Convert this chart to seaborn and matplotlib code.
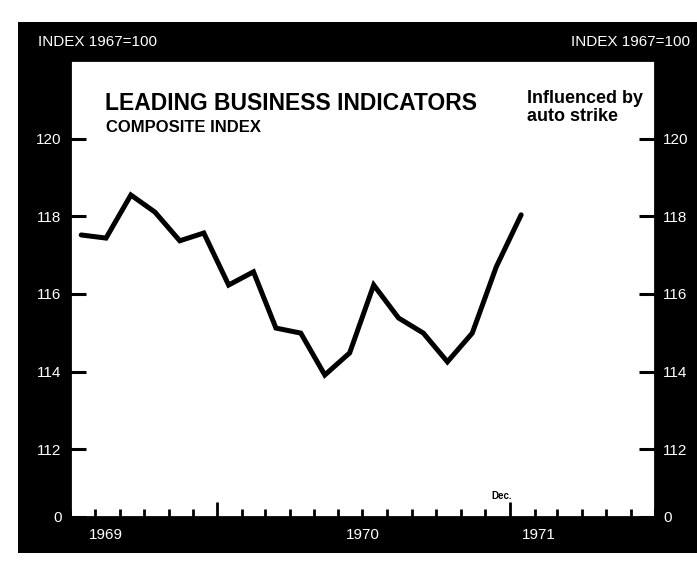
import pandas as pd
import matplotlib.pyplot as plt
import matplotlib.dates as mdates
import seaborn as sns

# monthly composite index (1967=100)
months = ['1969-07', '1969-08', '1969-09', '1969-10', '1969-11', '1969-12',
          '1970-01', '1970-02', '1970-03', '1970-04', '1970-05', '1970-06',
          '1970-07', '1970-08', '1970-09', '1970-10', '1970-11', '1970-12',
          '1971-01']
index_values = [117.52, 117.44, 118.55, 118.11, 117.37, 117.57,
                116.23, 116.57, 115.12, 114.99, 113.91, 114.48,
                116.23, 115.38, 114.99, 114.25, 114.99, 116.70,
                118.04]
y_ticks = [112, 114, 116, 118, 120]
year_labels = ['1969', '1970', '1971']

df = pd.DataFrame({'month': pd.to_datetime(months) + pd.Timedelta(days=14),
                   'index': index_values})

sns.set_style('white')
plt.rcParams['font.family'] = ['Liberation Sans', 'DejaVu Sans']
plt.rcParams['text.color'] = 'black'

fig = plt.figure(figsize=(6.97, 5.62), dpi=100)

# black frame behind the chart
frame = fig.add_axes([0.026, 0.016, 0.974, 0.945])
frame.set_facecolor('black')
frame.set_xticks([])
frame.set_yticks([])
for s in frame.spines.values():
    s.set_visible(False)

ax = fig.add_axes([0.1004, 0.0801, 0.8393, 0.8131])
ax.set_facecolor('white')
sns.lineplot(data=df, x='month', y='index', color='black', linewidth=3.6,
             solid_joinstyle='miter', ax=ax)

# y axis: broken scale, bottom edge labelled 0
y_bottom = 110.25
ax.set_ylim(y_bottom, 122.03)
ax.set_yticks([y_bottom] + y_ticks)
ax.set_yticklabels(['0'] + [str(t) for t in y_ticks])
ax.tick_params(axis='y', direction='in', length=11.5, width=2.2, color='black',
               labelcolor='white', labelsize=11, pad=6,
               left=True, right=True, labelleft=True, labelright=True)

# x axis: month ticks, taller ticks at the turn of the year
ax.set_xlim(pd.Timestamp('1969-07-01'), pd.Timestamp('1971-07-01'))
ax.xaxis.set_major_locator(mdates.MonthLocator(bymonth=1))
ax.xaxis.set_minor_locator(mdates.MonthLocator())
ax.tick_params(axis='x', which='major', direction='in', length=11, width=2,
               color='black', labelbottom=False, bottom=True)
ax.tick_params(axis='x', which='minor', direction='in', length=6, width=2,
               color='black', bottom=True)
ax.set_xlabel('')
ax.set_ylabel('')
for s in ax.spines.values():
    s.set_color('black')
    s.set_linewidth(2)

year_pos = [pd.Timestamp('1969-08-15'), pd.Timestamp('1970-07-01'),
            pd.Timestamp('1971-02-06')]
for pos, lab in zip(year_pos, year_labels):
    ax.text(pos, -0.039, lab, color='white', fontsize=11, ha='center',
            va='center', transform=ax.get_xaxis_transform())

ax.text(pd.Timestamp('1970-12-22'), 0.045, 'Dec.', fontsize=7,
        fontweight='bold', ha='center', va='center',
        transform=ax.get_xaxis_transform())

# headings
fig.text(38 / 697, 1 - 42 / 562, 'INDEX 1967=100', color='white',
         fontsize=11, ha='left', va='center')
fig.text(690 / 697, 1 - 42 / 562, 'INDEX 1967=100', color='white',
         fontsize=11, ha='right', va='center')
fig.text(105 / 697, 1 - 104 / 562, 'LEADING BUSINESS INDICATORS',
         fontsize=16.5, fontweight='bold', ha='left', va='center')
fig.text(106 / 697, 1 - 127 / 562, 'COMPOSITE INDEX',
         fontsize=12, fontweight='bold', ha='left', va='center')
fig.text(527 / 697, 1 - 90 / 562, 'Influenced by\nauto strike',
         fontsize=13, fontweight='bold', ha='left', va='top', linespacing=1.1)

fig.savefig('out.png', dpi=100, facecolor='white')
